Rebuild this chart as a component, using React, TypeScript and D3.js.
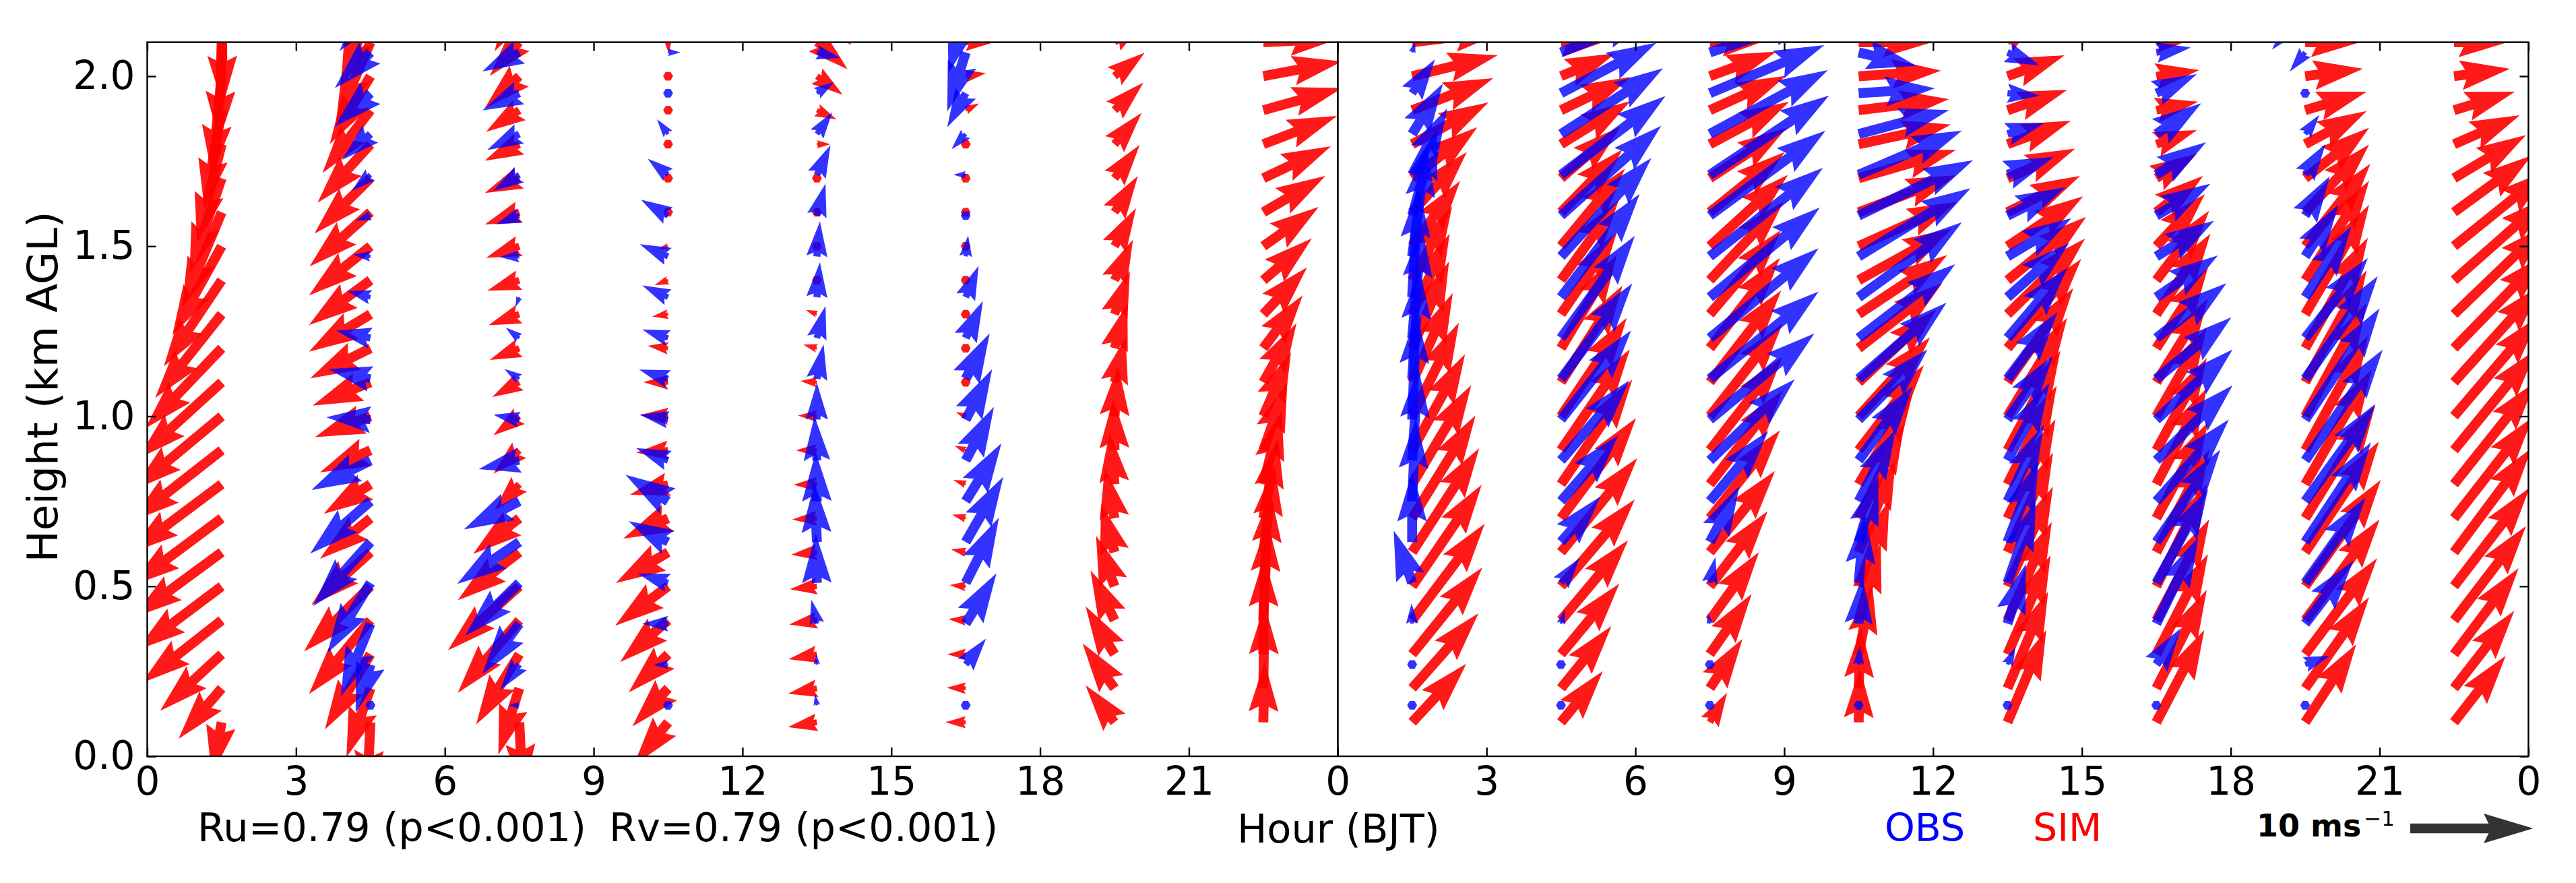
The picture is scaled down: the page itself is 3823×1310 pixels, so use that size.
import React, { useEffect, useRef } from "react";
import * as d3 from "d3";

// wind vectors [u, v] in m/s, one list per launch hour, lowest level first
const launchHours = [1.5, 4.5, 7.5, 10.5, 13.5, 16.5, 19.5, 22.5];
const simLevels = [0.1, 0.2, 0.3, 0.4, 0.5, 0.6, 0.7, 0.8, 0.9, 1.0, 1.1, 1.2, 1.3, 1.4, 1.5, 1.6, 1.7, 1.8, 1.9, 2.0, 2.1, 2.2];
const obsLevels = [0.15, 0.27, 0.39, 0.51, 0.63, 0.75, 0.87, 0.99, 1.11, 1.23, 1.35, 1.47, 1.59, 1.71, 1.83, 1.95, 2.07, 2.19];

const simDay1 = [
  [[-0.8,-4.3],[-3.5,-4.1],[-5,-4.6],[-6.5,-5.1],[-6.9,-5.2],[-7.2,-5.3],[-7.4,-5.5],[-7.5,-5.6],[-7.4,-5.8],[-7.2,-6],[-6.8,-6.2],[-6.2,-6.5],[-5.4,-6.8],[-4.7,-7],[-4,-7.2],[-3.2,-7.7],[-2.6,-7.7],[-2,-8],[-1.4,-8],[-0.8,-8],[-0.2,-8],[0.1,-7.9]],
  [[-0.3,-6.3],[-1.95,-5.6],[-3.7,-6.1],[-5,-6],[-5.4,-5.3],[-4.8,-4.3],[-4.1,-3.3],[-3.8,-2.4],[-4.1,-1.8],[-4.5,-1.7],[-4.7,-1.9],[-4.9,-2.45],[-5,-3.05],[-5,-3.65],[-5,-4],[-4.95,-4.4],[-4.55,-4.5],[-4.3,-4.75],[-3.9,-5.1],[-3.3,-5.5],[-2.8,-6.5],[-2.4,-6.4]],
  [[0.3,-5.8],[-1.7,-5.4],[-3.5,-5.7],[-5,-5.9],[-5.8,-5.2],[-5,-3.9],[-3.75,-2.9],[-2,-2.1],[-2.1,-1.9],[-2.1,-1.55],[-2.2,-1.2],[-2.4,-0.95],[-2.5,-0.9],[-2.6,-0.85],[-2.7,-0.95],[-2.8,-1],[-2.8,-1.2],[-2.8,-1.35],[-2.7,-1.75],[-2.8,-2.6],[-2.4,-2.75],[-2,-3.5]],
  [[-2.8,-3.5],[-2.9,-3.1],[-3.2,-3.1],[-3.9,-3.4],[-4.3,-3.2],[-4.25,-2.5],[-3.65,-1.65],[-3.1,-0.85],[-2.6,-0.2],[-2.3,0.1],[-2,0],[-1.65,0.2],[-1.3,-0.2],[-1.1,-0.4],[-0.8,-0.2],[-0.3,-0.1],[0,0],[0,0],[0,0],[0,0],[0.05,-0.9],[0,0]],
  [[-2.35,-0.4],[-2.35,-0.45],[-2.3,-0.4],[-2.25,-0.35],[-2.2,-0.25],[-2.1,-0.2],[-2,-0.1],[-1.9,-0.05],[-1.7,0],[-1.55,0.05],[-1.35,0.1],[-1.1,0.3],[-0.9,0.35],[0,0],[0,0],[0,0],[0,0],[1.1,0],[1.6,-0.75],[2.1,-1.5],[2.5,-2.2],[2.8,-3]],
  [[-1.65,0],[-1.55,0.05],[-1.5,0],[-1.4,0.1],[-1.3,0.1],[-1.2,0.25],[-1.1,0.3],[-1,0.35],[-0.9,0.35],[-0.8,0.35],[-0.6,0.45],[-0.5,0.6],[0,0],[0,0],[0,0],[0,0],[0,0],[0.5,0.6],[1.1,0.55],[1.65,0.25],[2.35,0],[2.8,0.4]],
  [[-2.35,3],[-2.6,3.65],[-2.35,3.9],[-1.95,4.05],[-1.5,4.1],[-1.1,3.9],[-0.8,4],[-0.4,4.2],[-0.1,4.2],[0.3,4.1],[0.9,3.65],[1.05,3.6],[1.25,3.5],[1.5,3.3],[1.75,3.1],[1.9,2.95],[2.05,2.7],[2.2,2.55],[2.35,2.25],[2.45,1.9],[2.3,1.6],[2.1,1.5]],
  [[0.1,4.9],[0.1,6.8],[0.05,7.9],[0.35,8],[0.6,7.6],[0.9,7],[1.2,6.5],[1.5,6],[1.95,5.5],[2.25,5.2],[2.7,4.8],[3.2,4.3],[3.55,3.8],[3.95,3.4],[4.5,3.2],[5.05,2.95],[5.5,2.6],[6,2.3],[6.4,1.8],[6.4,1.2],[6.2,0.3],[6,0.5]],
];

// no soundings at 01:30, 19:30 and 22:30 on the first day, nor at 22:30 on the second
const obsDay1 = [
  [],
  [[0,0],[-1.2,-3.9],[-2.4,-5.9],[-3.5,-5.7],[-4.65,-5.2],[-4.9,-4.25],[-4.8,-2.4],[-3.6,0.2],[-3.4,0.8],[-2.8,0.6],[-1.9,0.5],[-1.4,0.15],[-1.2,-0.4],[-1.5,-1.3],[-2.3,-2.1],[-2.9,-2.7],[-2.9,-2.9],[-2.5,-3.2]],
  [[-0.9,0],[-1.55,-2.05],[-3,-4.1],[-4.4,-4.3],[-5.05,-3.4],[-4.5,-2.3],[-3.3,-0.7],[-2.1,0.4],[-1.2,0.8],[-1.1,0.85],[-0.3,-0.8],[-1.6,-0.05],[-1.9,-0.7],[-2.1,-1.3],[-2.6,-1.3],[-3,-1.4],[-3,-1.55],[-0.9,-2.4]],
  [[0,0],[-1.2,-0.05],[-2.1,0],[-2.45,0.76],[-3.2,1.7],[-3.45,2.15],[-2.6,1],[-2.3,0.4],[-2.35,0.75],[-2.1,0.7],[-2.1,0.95],[-2.3,1],[-2.2,1.3],[-1.65,1.3],[-0.9,1.2],[0,0],[1,0],[0,0]],
  [[-0.15,0.9],[-0.05,0.85],[-0.45,1.95],[-0.1,4],[-0.2,4.8],[-0.1,4],[-0.2,3.6],[0,3],[0.55,2.8],[0.7,2.6],[0.25,2.85],[0.25,2.85],[0.7,2.6],[1.1,2.4],[1.25,1.75],[1.4,0.9],[1.9,-0.45],[0.5,-0.5]],
  [[0,0],[1.65,2.1],[2.5,4.1],[2.7,5.3],[3.05,5.3],[2.9,4.7],[2.3,4.35],[2.15,4.1],[1.95,3.7],[1.4,3],[1.05,2.55],[0.2,1.7],[-0.2,0.3],[-1,0],[-1.15,-1.25],[-1.5,-2.75],[-1.5,-4.8],[-1.4,-5]],
  [],
  [],
];

const simDay2 = [
  [[4.4,4.75],[5.4,6.1],[5.7,7.05],[5.9,7.85],[5.65,8.25],[5.45,8.45],[5.15,8.35],[4.8,8.05],[4.3,7.8],[3.8,7.6],[3.3,7.25],[3,7.05],[3.05,6.55],[3.25,6],[3.9,5.3],[4.45,4.9],[5.3,4.15],[6.2,3.4],[6.6,2.6],[6.95,1.7],[7.5,0.9],[7.5,1.5]],
  [[3.4,4.15],[4.1,5.05],[4.75,5.75],[5.45,6.5],[6,7.05],[6.2,7.65],[6.1,8.15],[5.8,8.5],[5.6,8.2],[5.35,8],[5,7.85],[4.55,7.6],[4.55,6.65],[4.7,6.5],[5.2,6.3],[5,5.1],[4.85,4.2],[5.65,3.5],[5.65,2.7],[4.4,1.85],[4,0.2],[4,0.5]],
  [[1.4,2.4],[2.65,4],[3.4,4.9],[4,5.55],[4.7,6.1],[5.3,6.6],[5.7,7.15],[5.9,7.6],[5.9,7.6],[5.9,7.5],[5.8,7.45],[5.7,7.35],[5.8,6.85],[6,6.4],[6.35,5.8],[6.1,4.9],[6.25,4.1],[6.45,3.45],[6.2,2.8],[5.4,2],[5,0.3],[5,0.5]],
  [[0.1,4.4],[0.2,4.9],[1.1,5.7],[1.8,6.3],[2.5,7],[3,7.5],[3.7,7.6],[4.4,7.4],[5.3,6.9],[5.8,6.4],[6.3,5.9],[6.8,5.3],[7.2,4.8],[7.6,4.2],[8,3.6],[7.9,3],[7.9,2.3],[7.5,1.6],[7.35,0.9],[6.7,0.45],[6,0],[6,0.5]],
  [[3.15,7.5],[3.3,7.85],[3.5,8.05],[3.6,8],[3.7,8.1],[3.7,8.1],[3.9,8.05],[4,8],[4.3,8.1],[4.85,8],[5.35,7.65],[6,7.25],[6.3,6.15],[6.4,5.15],[6.15,4.05],[5.9,2.95],[5.5,2.4],[5.15,1.9],[4.85,1.65],[4.65,1.7],[2.2,1.5],[2,1]],
  [[3.9,7.5],[4.1,8],[4.2,8.15],[4.3,8.2],[4.1,8.3],[4.3,8.3],[4.2,7.8],[4.1,7.8],[4.1,7.5],[4.1,7.2],[4.2,6.8],[4.2,6.55],[4.4,6.55],[4.3,5.65],[3.95,4.25],[3.8,2.95],[3.3,2],[3.3,1.15],[3.4,0.7],[3.5,0.5],[2.8,0.2],[2.5,0.5]],
  [[4.15,6.35],[5.2,7.4],[5.85,7.8],[6.05,8.2],[6.15,8.65],[6,9],[5.7,9.2],[5.4,9.3],[5.1,9.3],[5,9.2],[5,9.1],[5.1,9],[5.2,8.9],[5.2,8.1],[5.3,6.7],[5.2,5.5],[5.2,4.1],[5,2.7],[5,1.5],[4.7,0.6],[4.5,0],[4,0.2]],
  [[4.2,5.4],[4.9,6.3],[5.25,7],[5.85,7.65],[6.15,8],[6.3,8.45],[6.4,8.2],[6.6,8.3],[6.7,8.2],[6.9,8.1],[7.1,7.9],[7.4,7.6],[7.6,7.3],[7.7,6.8],[7.7,6.2],[6.3,4.6],[5.85,3.5],[5.35,2.35],[4.95,1.5],[4.55,0.6],[4.4,0],[4,0.3]],
];

const obsDay2 = [
  [[0,0],[0,0],[-0.05,1.65],[-1.5,4.25],[0,5.7],[0.3,6.7],[0.5,7.5],[0.35,8.6],[0.6,8.9],[0.8,9],[0.5,8.9],[1.2,8.9],[2,7],[2.85,5.4],[2.5,4.1],[1.85,2.75],[0.25,0.9],[0.1,0.3]],
  [[0,0],[0,0],[0.3,1.1],[1.5,2],[3.2,3.7],[4.65,5.35],[5.55,6.5],[5.7,7.25],[5.8,7.75],[6,8.3],[6.4,8.4],[7.35,8],[8.15,7.3],[8.5,6.4],[8.3,5.35],[7.75,4.1],[7.5,3],[7,3]],
  [[0,0],[-0.7,-0.3],[-0.15,0.85],[0.45,2.1],[2.4,4.55],[4.75,5.7],[6.9,6.6],[8.5,7],[8.85,7.1],[8.85,7.3],[8.95,7.3],[9.2,7.2],[9.4,6.9],[9.7,6.45],[9.6,5.2],[9.3,3.9],[9,3],[8.5,2.5]],
  [[0,0],[0.1,1.5],[0.3,3.8],[0.5,5.6],[1.6,5.4],[3,5.8],[4.4,6],[5.6,5.7],[7.15,6.2],[7.85,6],[8.4,6.1],[9.1,5.55],[9.3,4.5],[8.4,3.6],[7.35,1.95],[6.2,0.4],[4.7,-1.1],[4,-2.5]],
  [[0,0],[0.65,1.4],[1.5,4.85],[2.3,6.65],[2.5,6.55],[2.95,6.2],[3.4,6.3],[3.7,5.2],[4.05,5.4],[4.85,5.7],[5,4.4],[5.2,3.1],[4.7,2.3],[3.75,1.45],[3,0.9],[2.6,-0.2],[2.6,-1.05],[1,-1.5]],
  [[0,0],[2,2.95],[3.4,7],[4.2,7.6],[5.2,7.5],[5.9,6.65],[6.2,6.1],[6.2,5.7],[6.1,5],[5.7,4.45],[5,3.4],[4.7,2.9],[4.4,2.6],[4.05,2.65],[3.65,2.5],[3.3,1.55],[2.8,0.4],[2.6,-2.6]],
  [[0,0],[2,0.7],[3.9,5.1],[4.9,6.9],[5.35,8.1],[5.7,7.9],[6.3,9],[6.05,9.05],[5.9,8.35],[5.1,6.5],[3.75,5.75],[2.7,4.2],[2,3.2],[1.65,2.5],[1.15,1.55],[0,0],[-1.25,-1.55],[-2.7,-3.1]],
  [],
];

const hourTicks = [0, 3, 6, 9, 12, 15, 18, 21, 24];
const heightTicks = [0, 0.5, 1.0, 1.5, 2.0];
const keySpeed = 10;

const SIM_FILL = "#ff0000";
const OBS_FILL = "#0000ff";
const FONT = "'DejaVu Sans', sans-serif";

const shaftW = 14.7;
const speedPx = d3.scaleLinear().domain([0, keySpeed]).range([0, 182.5]);

// same outline as a matplotlib quiver arrow (headwidth 3, headlength 5, headaxislength 4.5)
function arrowPath(u: number, v: number, ox: number, oy: number) {
  const len = speedPx(Math.hypot(u, v)) / shaftW;
  let pts: [number, number][];
  if (len < 1) {
    pts = d3.range(6).map((k) => [
      ox + 0.5 * shaftW * Math.cos((k * Math.PI) / 3),
      oy + 0.5 * shaftW * Math.sin((k * Math.PI) / 3),
    ]);
    return d3.line()(pts) + "Z";
  }
  const minsh = 5;
  let xs = [0, len - 4.5, len - 5, len];
  let ys = [0.5, 0.5, 1.5, 0];
  if (len < minsh) {
    const s = len / minsh;
    xs = [0, 0.5, 0, 5].map((d) => d * s);
    ys = ys.map((d) => d * s);
  }
  const order = [0, 1, 2, 3, 2, 1, 0];
  const sign = [1, 1, 1, 1, -1, -1, -1];
  const a = Math.atan2(v, u);
  pts = order.map((i, k) => {
    const px = xs[i] * shaftW;
    const py = ys[i] * sign[k] * shaftW;
    return [
      ox + px * Math.cos(a) - py * Math.sin(a),
      oy - (px * Math.sin(a) + py * Math.cos(a)),
    ];
  });
  return d3.line()(pts) + "Z";
}

export default function App() {
  const svgRef = useRef<SVGSVGElement>(null);

  useEffect(() => {
    const svg = d3.select(svgRef.current);
    svg.selectAll("*").remove();

    const top = 62.6;
    const bottom = 1122;
    const y = d3.scaleLinear().domain([0, 2.1]).range([bottom, top]);

    const panels = [
      { id: "day1", left: 218.5, right: 1985.3, sim: simDay1, obs: obsDay1 },
      { id: "day2", left: 1985.3, right: 3752.4, sim: simDay2, obs: obsDay2 },
    ];

    panels.forEach((p, pi) => {
      const x = d3.scaleLinear().domain([0, 24]).range([p.left, p.right]);
      const g = svg.append("g");

      g.append("clipPath")
        .attr("id", `clip-${p.id}`)
        .append("rect")
        .attr("x", p.left)
        .attr("y", top)
        .attr("width", p.right - p.left)
        .attr("height", bottom - top);

      const marks = g.append("g").attr("clip-path", `url(#clip-${p.id})`);

      const drawSeries = (cols: number[][][], levels: number[], fill: string, alpha: number) => {
        cols.forEach((col, ci) => {
          col.forEach((d, li) => {
            marks.append("path")
              .attr("d", arrowPath(d[0], d[1], x(launchHours[ci]), y(levels[li])))
              .attr("fill", fill)
              .attr("fill-opacity", alpha);
          });
        });
      };
      drawSeries(p.sim, simLevels, SIM_FILL, 0.9);
      drawSeries(p.obs, obsLevels, OBS_FILL, 0.8);

      const fmtHour = (d: any) => String(d % 24);
      const bottomAxis = d3.axisBottom(x).tickValues(pi === 0 ? hourTicks : hourTicks.slice(1)).tickFormat(fmtHour).tickSize(-13).tickPadding(16);
      const topAxis = d3.axisTop(x).tickValues(hourTicks).tickFormat(() => "").tickSize(-13);
      g.append("g").attr("transform", `translate(0,${bottom})`).call(bottomAxis as any);
      g.append("g").attr("transform", `translate(0,${top})`).call(topAxis as any);

      if (pi === 0) {
        const leftAxis = d3.axisLeft(y).tickValues(heightTicks).tickFormat(d3.format(".1f") as any).tickSize(-13).tickPadding(18);
        g.append("g").attr("transform", `translate(${p.left},0)`).call(leftAxis as any);
      } else {
        const rightAxis = d3.axisRight(y).tickValues(heightTicks).tickFormat(() => "").tickSize(-13);
        g.append("g").attr("transform", `translate(${p.right},0)`).call(rightAxis as any);
      }

      g.append("rect")
        .attr("x", p.left)
        .attr("y", top)
        .attr("width", p.right - p.left)
        .attr("height", bottom - top)
        .attr("fill", "none")
        .attr("stroke", "#000")
        .attr("stroke-width", 2.4);
    });

    svg.selectAll(".domain").remove();
    svg.selectAll(".tick line").attr("stroke", "#000").attr("stroke-width", 2.4);
    svg.selectAll(".tick text").attr("fill", "#000").style("font-family", FONT).style("font-size", "58px");

    const label = (txt: string, lx: number, ly: number, fill = "#000", size = 59) =>
      svg.append("text")
        .attr("x", lx)
        .attr("y", ly)
        .attr("fill", fill)
        .style("font-family", FONT)
        .style("font-size", `${size}px`)
        .text(txt);

    label("Ru=0.79 (p<0.001)", 293, 1248);
    label("Rv=0.79 (p<0.001)", 904, 1248);
    label("Hour (BJT)", 1836, 1250);
    label("OBS", 2797, 1248, OBS_FILL, 57);
    label("SIM", 3017, 1248, SIM_FILL, 57);

    svg.append("text")
      .attr("transform", "translate(85,574) rotate(-90)")
      .attr("text-anchor", "middle")
      .style("font-family", FONT)
      .style("font-size", "63px")
      .text("Height (km AGL)");

    const keyText = svg.append("text")
      .attr("x", 3349)
      .attr("y", 1241)
      .style("font-family", FONT)
      .style("font-size", "46px")
      .style("font-weight", "bold")
      .text(`${keySpeed} ms`);
    keyText.append("tspan")
      .attr("dy", -16)
      .attr("dx", 4)
      .style("font-size", "31px")
      .style("font-weight", "normal")
      .text("−1");

    svg.append("path")
      .attr("d", arrowPath(keySpeed, 0, 3577, 1229))
      .attr("fill", "#000")
      .attr("fill-opacity", 0.8);
  }, []);

  return (
    <svg
      ref={svgRef}
      width={3823}
      height={1310}
      style={{ position: "absolute", left: 0, top: 0, background: "#fff" }}
    />
  );
}
